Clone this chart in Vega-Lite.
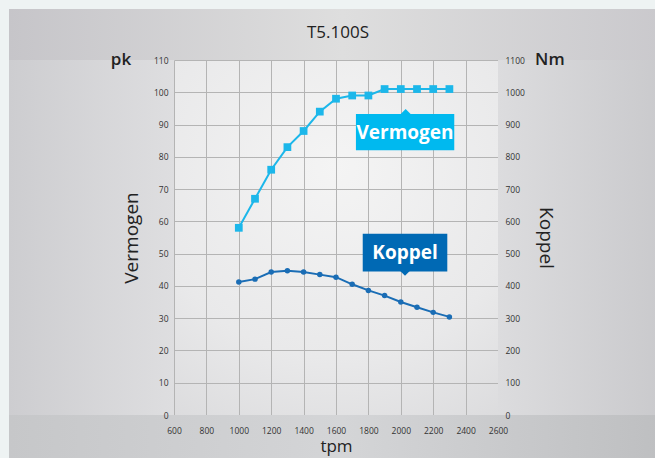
{
  "$schema": "https://vega.github.io/schema/vega-lite/v6.json",
  "width": 324,
  "height": 355,
  "autosize": {"type": "none"},
  "padding": {"left": 174, "top": 60, "right": 157, "bottom": 43},
  "background": "#eef3f3",
  "config": {
    "font": "Open Sans",
    "view": {
      "stroke": null,
      "fill": {"gradient": "radial", "x1": 0.5, "y1": 0.3, "x2": 0.5, "y2": 0.3, "r1": 0, "r2": 0.9,
        "stops": [{"offset": 0, "color": "#f4f4f4"}, {"offset": 0.6, "color": "#e9e9ea"}, {"offset": 1, "color": "#d9d9db"}]}
    }
  },
  "datasets": {
    "vermogen": [
      {"tpm": 1000, "pk": 58}, {"tpm": 1100, "pk": 67}, {"tpm": 1200, "pk": 76}, {"tpm": 1300, "pk": 83},
      {"tpm": 1400, "pk": 88}, {"tpm": 1500, "pk": 94}, {"tpm": 1600, "pk": 98}, {"tpm": 1700, "pk": 99},
      {"tpm": 1800, "pk": 99}, {"tpm": 1900, "pk": 101}, {"tpm": 2000, "pk": 101}, {"tpm": 2100, "pk": 101},
      {"tpm": 2200, "pk": 101}, {"tpm": 2300, "pk": 101}
    ],
    "koppel": [
      {"tpm": 1000, "Nm": 412}, {"tpm": 1100, "Nm": 421}, {"tpm": 1200, "Nm": 443}, {"tpm": 1300, "Nm": 447},
      {"tpm": 1400, "Nm": 443}, {"tpm": 1500, "Nm": 435}, {"tpm": 1600, "Nm": 427}, {"tpm": 1700, "Nm": 405},
      {"tpm": 1800, "Nm": 386}, {"tpm": 1900, "Nm": 370}, {"tpm": 2000, "Nm": 350}, {"tpm": 2100, "Nm": 334},
      {"tpm": 2200, "Nm": 318}, {"tpm": 2300, "Nm": 304}
    ]
  },
  "layer": [
    {
      "data": {"name": "vermogen"},
      "layer": [
        {
          "transform": [{"filter": "datum.tpm === 1000"}],
          "encoding": {
            "x": {
              "field": "tpm", "type": "quantitative",
              "scale": {"domain": [600, 2600], "nice": false, "zero": false},
              "axis": {
                "values": [600, 800, 1000, 1200, 1400, 1600, 1800, 2000, 2200, 2400, 2600],
                "grid": true, "gridColor": "#b4b4b4", "gridWidth": 1, "domain": false, "ticks": false,
                "labels": false, "title": null, "zindex": 0
              }
            },
            "y": {
              "field": "pk", "type": "quantitative",
              "scale": {"domain": [0, 110], "nice": false, "zero": false},
              "axis": {
                "orient": "left", "offset": 0,
                "values": [0, 10, 20, 30, 40, 50, 60, 70, 80, 90, 100, 110],
                "grid": true, "gridColor": "#b4b4b4", "gridWidth": 1, "domain": false, "ticks": false,
                "labels": false, "title": null, "zindex": 0
              }
            }
          },
          "layer": [
            {"mark": {"type": "rect", "clip": false, "fill": {"gradient": "linear", "x1": 0, "y1": 0, "x2": 1, "y2": 0,
              "stops": [{"offset": 0, "color": "#c6c5c9"}, {"offset": 0.5, "color": "#dedede"}, {"offset": 1, "color": "#c9c8cc"}]}},
             "encoding": {"x": {"datum": -418.5}, "x2": {"datum": 3700}, "y": {"datum": 125.8}, "y2": {"datum": 110}}},
            {"mark": {"type": "rect", "clip": false, "fill": {"gradient": "linear", "x1": 0, "y1": 0, "x2": 1, "y2": 0,
              "stops": [{"offset": 0, "color": "#cdcdd0"}, {"offset": 1, "color": "#dedee0"}]}},
             "encoding": {"x": {"datum": -418.5}, "x2": {"datum": 600}, "y": {"datum": 110}, "y2": {"datum": 0}}},
            {"mark": {"type": "rect", "clip": false, "fill": {"gradient": "linear", "x1": 0, "y1": 0, "x2": 1, "y2": 0,
              "stops": [{"offset": 0, "color": "#dcdcde"}, {"offset": 1, "color": "#c8c8cb"}]}},
             "encoding": {"x": {"datum": 2600}, "x2": {"datum": 3700}, "y": {"datum": 110}, "y2": {"datum": 0}}},
            {"mark": {"type": "rect", "clip": false, "fill": {"gradient": "linear", "x1": 0, "y1": 0, "x2": 1, "y2": 0,
              "stops": [{"offset": 0, "color": "#c6c7c9"}, {"offset": 0.5, "color": "#d4d5d7"}, {"offset": 1, "color": "#bdbec0"}]}},
             "encoding": {"x": {"datum": -418.5}, "x2": {"datum": 3700}, "y": {"datum": 0}, "y2": {"datum": -20}}},
            {"mark": {"type": "rect", "fill": "#00b9ef"},
             "encoding": {"x": {"datum": 1723}, "x2": {"datum": 2330}, "y": {"datum": 93.3}, "y2": {"datum": 82.0}}},
            {"mark": {"type": "point", "shape": "M -1 0 L 0 -1 L 1 0 Z", "filled": true, "opacity": 1, "color": "#00b9ef", "size": 110},
             "encoding": {"x": {"datum": 2030}, "y": {"datum": 93.2}}},
            {"mark": {"type": "text", "fill": "#ffffff", "fontSize": 19, "fontWeight": 700, "baseline": "middle"},
             "encoding": {"x": {"datum": 2026}, "y": {"datum": 87.5}, "text": {"value": "Vermogen"}}},
            {"mark": {"type": "rect", "fill": "#0069b4"},
             "encoding": {"x": {"datum": 1765}, "x2": {"datum": 2287}, "y": {"datum": 56.2}, "y2": {"datum": 44.5}}},
            {"mark": {"type": "point", "shape": "M -1 0 L 0 1 L 1 0 Z", "filled": true, "opacity": 1, "color": "#0069b4", "size": 90},
             "encoding": {"x": {"datum": 2026}, "y": {"datum": 44.6}}},
            {"mark": {"type": "text", "fill": "#ffffff", "fontSize": 19, "fontWeight": 700, "baseline": "middle"},
             "encoding": {"x": {"datum": 2026}, "y": {"datum": 50.3}, "text": {"value": "Koppel"}}},
            {"mark": {"type": "text", "fill": "#222222", "fontSize": 17, "fontWeight": 600, "baseline": "middle"},
             "encoding": {"x": {"datum": 273}, "y": {"datum": 110}, "text": {"value": "pk"}}},
            {"mark": {"type": "text", "fill": "#222222", "fontSize": 17, "fontWeight": 600, "baseline": "middle"},
             "encoding": {"x": {"datum": 2920}, "y": {"datum": 110}, "text": {"value": "Nm"}}},
            {"mark": {"type": "text", "fill": "#222222", "fontSize": 17, "fontWeight": 400, "baseline": "middle"},
             "encoding": {"x": {"datum": 1612}, "y": {"datum": 118.4}, "text": {"value": "T5.100S"}}}
          ]
        },
        {
          "encoding": {
            "x": {
              "field": "tpm", "type": "quantitative",
              "scale": {"domain": [600, 2600], "nice": false, "zero": false},
              "axis": {
                "values": [600, 800, 1000, 1200, 1400, 1600, 1800, 2000, 2200, 2400, 2600],
                "grid": true, "gridColor": "#b4b4b4", "gridWidth": 1, "domain": false, "ticks": false,
                "labels": false, "title": null, "zindex": 0
              }
            },
            "y": {
              "field": "pk", "type": "quantitative",
              "scale": {"domain": [0, 110], "nice": false, "zero": false},
              "axis": {
                "orient": "left", "offset": 0,
                "values": [0, 10, 20, 30, 40, 50, 60, 70, 80, 90, 100, 110],
                "grid": false, "domain": false, "ticks": false, "zindex": 1, "format": "d",
                "labelPadding": 6, "labelFontSize": 8.5, "labelColor": "#333333", "labelFlush": false,
                "title": "Vermogen", "titleFontSize": 19, "titleFontWeight": "normal", "titleColor": "#222222", "titlePadding": 12
              }
            }
          },
          "layer": [
            {"mark": {"type": "line", "color": "#1cb7ea", "strokeWidth": 2}},
            {"mark": {"type": "point", "shape": "square", "filled": true, "opacity": 1, "color": "#1cb7ea", "size": 60}}
          ]
        }
      ],
      "resolve": {"axis": {"y": "independent"}}
    },
    {
      "data": {"name": "koppel"},
      "encoding": {
        "x": {
          "field": "tpm", "type": "quantitative",
          "axis": {
            "orient": "bottom",
            "values": [600, 800, 1000, 1200, 1400, 1600, 1800, 2000, 2200, 2400, 2600],
            "grid": false, "domain": false, "ticks": false, "zindex": 1, "format": "d",
            "labelPadding": 11, "labelFontSize": 8.5, "labelColor": "#333333", "labelFlush": false, "labelOverlap": false,
            "title": "tpm", "titleFontSize": 17, "titleFontWeight": "normal", "titleColor": "#222222", "titlePadding": 4
          }
        },
        "y": {
          "field": "Nm", "type": "quantitative",
          "scale": {"domain": [0, 1100], "nice": false, "zero": false},
          "axis": {
            "orient": "right",
            "values": [0, 100, 200, 300, 400, 500, 600, 700, 800, 900, 1000, 1100],
            "grid": false, "domain": false, "ticks": false, "zindex": 1, "format": "d",
            "labelPadding": 7, "labelFontSize": 8.5, "labelColor": "#333333", "labelFlush": false,
            "title": "Koppel", "titleFontSize": 19, "titleFontWeight": "normal", "titleColor": "#222222", "titlePadding": 11
          }
        }
      },
      "layer": [
        {"mark": {"type": "line", "color": "#1a6db5", "strokeWidth": 2}},
        {"mark": {"type": "point", "shape": "circle", "filled": true, "opacity": 1, "color": "#1a6db5", "size": 30}}
      ]
    }
  ],
  "resolve": {"scale": {"y": "independent"}, "axis": {"x": "independent"}}
}
